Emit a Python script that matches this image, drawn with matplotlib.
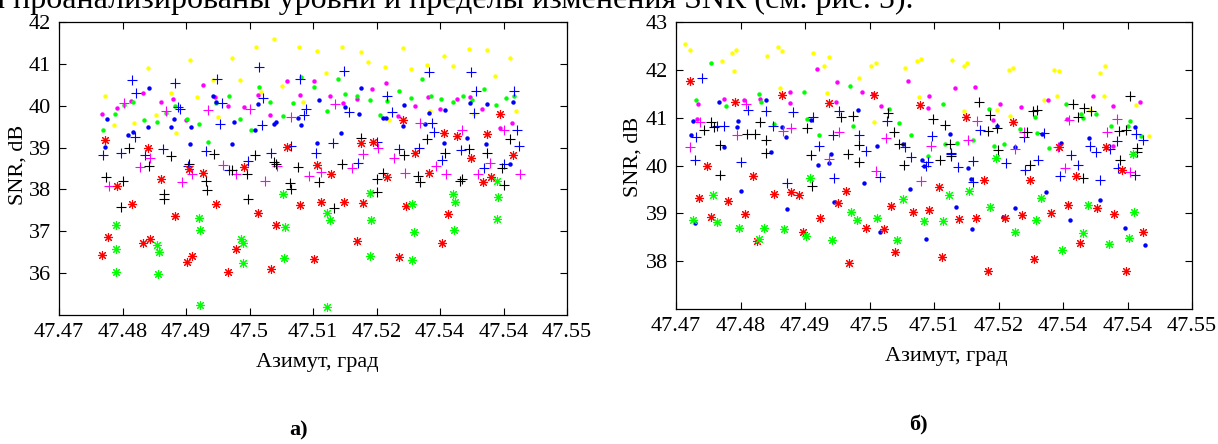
# Import necessary libraries
import numpy as np
import matplotlib
matplotlib.use('Agg')
import matplotlib.pyplot as plt

plt.rcParams['font.family'] = ['Liberation Serif', 'DejaVu Serif']

# ---------------- data: panel a) ----------------
a_yel_dot_x = [47.4772, 47.4786, 47.4818, 47.4840, 47.4852, 47.4877, 47.4885, 47.4906, 47.4918, 47.4943,
               47.4951, 47.4972, 47.4985, 47.5010, 47.5018, 47.5038, 47.5051, 47.5078, 47.5085, 47.5107,
               47.5121, 47.5146, 47.5175, 47.5187, 47.5213, 47.5220, 47.5241, 47.5254, 47.5279, 47.5285,
               47.5307, 47.5320, 47.5345, 47.5353, 47.5374, 47.5386, 47.5411, 47.5419]
a_yel_dot_y = [40.23, 39.53, 39.59, 40.90, 39.77, 40.31, 39.34, 41.09, 40.20, 40.62,
               39.73, 41.14, 40.62, 41.40, 40.33, 41.60, 40.47, 41.40, 40.08, 41.30,
               40.78, 41.40, 41.28, 41.05, 40.92, 39.65, 41.37, 40.87, 40.97, 39.88,
               41.19, 40.95, 41.35, 39.81, 41.33, 40.71, 41.14, 39.87]

a_mag_dot_x = [47.4767, 47.4792, 47.4813, 47.4833, 47.4860, 47.4880, 47.4900, 47.4926, 47.4946, 47.4966,
               47.4992, 47.5014, 47.5033, 47.5059, 47.5080, 47.5102, 47.5127, 47.5148, 47.5169, 47.5193,
               47.5215, 47.5234, 47.5261, 47.5281, 47.5300, 47.5327, 47.5347, 47.5366, 47.5394, 47.5414]
a_mag_dot_y = [39.80, 39.95, 40.11, 40.31, 40.10, 40.15, 39.67, 40.49, 40.20, 40.00,
               39.97, 40.26, 39.79, 40.59, 40.26, 40.59, 40.23, 40.06, 40.16, 40.39,
               40.54, 39.76, 40.00, 40.20, 39.92, 40.16, 40.21, 39.92, 39.46, 39.58]

a_grn_dot_x = [47.4769, 47.4788, 47.4803, 47.4816, 47.4834, 47.4854, 47.4869, 47.4882, 47.4901, 47.4920,
               47.4935, 47.4948, 47.4967, 47.4985, 47.5002, 47.5015, 47.5033, 47.5053, 47.5069, 47.5081,
               47.5102, 47.5122, 47.5139, 47.5150, 47.5170, 47.5189, 47.5205, 47.5217, 47.5236, 47.5255,
               47.5271, 47.5286, 47.5302, 47.5320, 47.5337, 47.5351, 47.5370, 47.5388, 47.5404, 47.5417]
a_grn_dot_y = [39.43, 39.80, 40.01, 40.10, 39.65, 39.61, 39.82, 40.00, 39.69, 39.56,
               39.14, 40.07, 40.23, 39.69, 39.42, 40.45, 40.08, 39.76, 40.07, 40.69,
               40.44, 39.88, 40.63, 40.28, 40.24, 40.14, 39.79, 40.11, 40.35, 40.18,
               40.63, 40.24, 40.15, 40.10, 40.23, 40.13, 40.40, 40.02, 40.18, 40.23]

a_blu_dot_x = [47.4775, 47.4772, 47.4809, 47.4816, 47.4841, 47.4840, 47.4876, 47.4881, 47.4906, 47.4908,
               47.4942, 47.4947, 47.4973, 47.4975, 47.5009, 47.5014, 47.5039, 47.5042, 47.5076, 47.5081,
               47.5107, 47.5110, 47.5144, 47.5151, 47.5173, 47.5176, 47.5210, 47.5215, 47.5241, 47.5243,
               47.5277, 47.5282, 47.5307, 47.5308, 47.5343, 47.5348, 47.5373, 47.5374, 47.5410, 47.5415]
a_blu_dot_y = [39.68, 39.01, 39.30, 39.38, 40.43, 39.48, 39.49, 39.68, 39.09, 39.49,
               40.23, 40.08, 39.09, 39.61, 39.42, 40.04, 39.57, 39.62, 39.71, 39.54,
               39.10, 40.14, 39.35, 39.96, 39.80, 40.43, 39.71, 39.71, 39.52, 40.01,
               39.56, 39.83, 39.10, 39.89, 39.22, 40.06, 39.09, 40.05, 38.60, 40.08]

a_blu_plus_x = [47.4769, 47.4798, 47.4815, 47.4819, 47.4822, 47.4835, 47.4864, 47.4882, 47.4888, 47.4890,
                47.4903, 47.4931, 47.4949, 47.4954, 47.4956, 47.4968, 47.4998, 47.5015, 47.5020, 47.5022,
                47.5034, 47.5066, 47.5080, 47.5086, 47.5089, 47.5104, 47.5132, 47.5149, 47.5157, 47.5171,
                47.5200, 47.5217, 47.5224, 47.5235, 47.5267, 47.5282, 47.5288, 47.5291, 47.5303, 47.5333,
                47.5349, 47.5356, 47.5354, 47.5370, 47.5400, 47.5417, 47.5422, 47.5424]
a_blu_plus_y = [38.83, 38.87, 40.62, 39.25, 40.31, 38.83, 38.96, 40.54, 39.96, 39.91,
                38.56, 38.92, 40.65, 39.57, 40.06, 38.46, 38.67, 40.93, 39.53, 40.19,
                38.88, 39.03, 40.65, 39.77, 39.91, 38.87, 39.12, 40.83, 39.85, 38.64,
                39.14, 40.23, 39.84, 38.96, 38.99, 40.81, 39.58, 39.37, 38.70, 38.94,
                40.81, 40.35, 39.82, 38.52, 38.60, 40.34, 39.43, 39.03]

a_mag_plus_x = [47.4778, 47.4802, 47.4827, 47.4844, 47.4868, 47.4893, 47.4910, 47.4934, 47.4959, 47.4978,
                47.5001, 47.5025, 47.5043, 47.5066, 47.5093, 47.5113, 47.5134, 47.5161, 47.5179, 47.5202,
                47.5228, 47.5245, 47.5268, 47.5293, 47.5310, 47.5335, 47.5360, 47.5379, 47.5401, 47.5426]
a_mag_plus_y = [38.07, 40.07, 38.53, 38.75, 39.88, 38.17, 38.38, 39.90, 38.59, 38.37,
                39.92, 38.19, 38.56, 39.73, 38.32, 38.42, 40.04, 38.52, 38.84, 38.98,
                38.75, 38.40, 39.59, 38.56, 38.37, 39.42, 38.38, 38.64, 39.43, 38.38]

a_blk_plus_x = [47.4774, 47.4798, 47.4801, 47.4811, 47.4841, 47.4865, 47.4866, 47.4877, 47.4905, 47.4932,
                47.4933, 47.4944, 47.4972, 47.4996, 47.4998, 47.5009, 47.5039, 47.5041, 47.5064, 47.5065,
                47.5077, 47.5109, 47.5133, 47.5146, 47.5176, 47.5200, 47.5201, 47.5210, 47.5243, 47.5266,
                47.5268, 47.5279, 47.5308, 47.5331, 47.5334, 47.5346, 47.5374, 47.5400, 47.5398, 47.5411]
a_blk_plus_y = [38.30, 37.59, 38.21, 39.00, 38.57, 37.88, 37.78, 38.81, 38.61, 38.19,
                37.98, 38.85, 38.47, 38.36, 37.76, 38.83, 38.66, 38.60, 38.15, 38.01,
                38.53, 38.18, 37.55, 38.60, 39.23, 38.25, 37.94, 38.40, 38.83, 38.32,
                38.18, 39.20, 38.88, 38.21, 38.24, 38.97, 38.87, 38.11, 38.52, 39.20]

a_red_star_x = [47.4768, 47.4772, 47.4777, 47.4792, 47.4815, 47.4833, 47.4844, 47.4840, 47.4860, 47.4882,
                47.4901, 47.4909, 47.4905, 47.4927, 47.4948, 47.4966, 47.4978, 47.4992, 47.5014, 47.5034,
                47.5042, 47.5059, 47.5080, 47.5102, 47.5106, 47.5113, 47.5128, 47.5149, 47.5169, 47.5175,
                47.5179, 47.5194, 47.5217, 47.5236, 47.5241, 47.5246, 47.5260, 47.5282, 47.5303, 47.5306,
                47.5312, 47.5326, 47.5349, 47.5368, 47.5374, 47.5380, 47.5394, 47.5415]
a_red_star_y = [36.44, 39.19, 36.87, 38.08, 37.64, 36.71, 36.81, 39.00, 38.25, 37.37,
                36.26, 36.40, 38.49, 38.40, 37.64, 36.03, 36.57, 38.53, 37.43, 36.11,
                37.15, 39.02, 37.62, 36.34, 38.59, 37.69, 38.38, 37.70, 36.77, 39.10,
                37.67, 39.13, 38.29, 36.38, 39.67, 37.60, 38.87, 38.40, 36.73, 39.34,
                37.42, 39.28, 38.75, 38.17, 39.33, 38.29, 39.81, 38.83]

a_grn_star_x = [47.4789, 47.4789, 47.4789, 47.4855, 47.4857, 47.4856, 47.4920, 47.4922, 47.4922, 47.4986,
                47.4990, 47.4989, 47.5052, 47.5056, 47.5054, 47.5122, 47.5126, 47.5122, 47.5190, 47.5192,
                47.5189, 47.5256, 47.5259, 47.5256, 47.5321, 47.5324, 47.5322, 47.5389, 47.5392, 47.5389]
a_grn_star_y = [37.14, 36.58, 36.03, 36.68, 36.50, 35.99, 37.31, 37.02, 35.25, 36.81,
                36.72, 36.24, 37.89, 37.10, 36.35, 37.43, 37.27, 35.20, 37.92, 37.27,
                36.41, 37.64, 36.98, 36.31, 37.90, 37.71, 37.02, 38.21, 37.81, 37.29]

# ---------------- data: panel б) ----------------
b_yel_dot_x = [47.4714, 47.4722, 47.4771, 47.4787, 47.4793, 47.4790, 47.4841, 47.4858, 47.4865, 47.4913,
               47.4930, 47.4937, 47.4984, 47.5002, 47.5010, 47.5055, 47.5073, 47.5080, 47.5128, 47.5146,
               47.5151, 47.5216, 47.4862, 47.4934, 47.5007, 47.5077, 47.5147, 47.5198, 47.5223, 47.5218,
               47.5286, 47.5294, 47.5290, 47.5271, 47.5357, 47.5365, 47.5363, 47.5342, 47.5413, 47.5433]
b_yel_dot_y = [42.53, 42.41, 42.18, 42.35, 42.41, 41.98, 42.28, 42.48, 42.39, 42.36,
               42.07, 42.26, 41.82, 42.09, 42.14, 42.03, 42.18, 42.23, 42.21, 42.07,
               42.15, 42.00, 41.61, 41.51, 40.91, 41.44, 41.14, 41.16, 42.04, 41.04,
               42.00, 41.98, 41.45, 41.37, 41.94, 42.09, 41.46, 41.17, 41.26, 40.62]

b_mag_dot_x = [47.4734, 47.4733, 47.4775, 47.4805, 47.4831, 47.4877, 47.4877, 47.4918, 47.4949, 47.4948,
               47.4989, 47.5006, 47.5018, 47.5060, 47.5092, 47.5090, 47.5133, 47.5164, 47.5191, 47.5202,
               47.5235, 47.5276, 47.5306, 47.5347, 47.5378, 47.5419, 47.5377]
b_mag_dot_y = [41.29, 40.98, 41.39, 41.37, 41.40, 41.53, 41.31, 42.02, 41.74, 41.33,
               41.53, 41.49, 41.25, 41.77, 41.45, 41.21, 41.63, 41.65, 40.95, 41.29,
               41.23, 41.36, 40.97, 41.46, 41.24, 41.33, 40.41]

b_grn_dot_x = [47.4755, 47.4731, 47.4777, 47.4828, 47.4832, 47.4898, 47.4903, 47.4922, 47.4970, 47.4975,
               47.5030, 47.5045, 47.5065, 47.5114, 47.5117, 47.5135, 47.5185, 47.5193, 47.4852, 47.5090,
               47.5160, 47.5208, 47.5233, 47.5256, 47.5260, 47.5279, 47.5304, 47.5328, 47.5331, 47.5351,
               47.5374, 47.5400, 47.5404, 47.5421]
b_grn_dot_y = [42.14, 41.37, 41.24, 41.49, 41.33, 41.54, 40.97, 40.64, 41.67, 40.83,
               41.18, 40.88, 40.64, 41.29, 40.44, 40.46, 41.18, 40.41, 40.87, 40.20,
               40.53, 40.45, 40.76, 41.02, 40.67, 40.37, 41.29, 41.08, 40.99, 41.08,
               40.83, 40.83, 40.92, 40.62]

b_blu_dot_x = [47.4726, 47.4723, 47.4766, 47.4774, 47.4795, 47.4796, 47.4839, 47.4848, 47.4865, 47.4870,
               47.4909, 47.4940, 47.4982, 47.5012, 47.5052, 47.5125, 47.5197, 47.5225, 47.5268, 47.5297,
               47.5341, 47.5412, 47.4729, 47.4801, 47.4872, 47.4920, 47.4937, 47.4945, 47.4991, 47.5016,
               47.5063, 47.5082, 47.5085, 47.5088, 47.5134, 47.5152, 47.5157, 47.5159, 47.5207, 47.5226,
               47.5274, 47.5311, 47.5357, 47.5396, 47.5427]
b_blu_dot_y = [40.94, 40.64, 41.33, 40.38, 40.81, 40.92, 41.37, 40.28, 40.81, 40.59,
               40.95, 40.25, 41.15, 40.41, 40.45, 40.66, 40.83, 40.39, 40.65, 40.48,
               40.58, 40.80, 38.79, 39.46, 39.10, 40.02, 40.05, 39.24, 39.63, 38.60,
               39.51, 40.12, 40.00, 38.46, 39.13, 39.95, 39.72, 38.67, 38.93, 39.11,
               39.45, 38.86, 39.28, 38.69, 38.34]

b_blu_plus_x = [47.4741, 47.4731, 47.4764, 47.4775, 47.4812, 47.4840, 47.4850, 47.4882, 47.4912, 47.4922,
                47.4943, 47.4953, 47.4983, 47.4994, 47.5027, 47.5097, 47.5126, 47.5171, 47.5055, 47.5240,
                47.5270, 47.5313, 47.5342, 47.5351, 47.5373, 47.5384, 47.5413, 47.5424, 47.4729, 47.4801,
                47.4872, 47.4945, 47.5016, 47.5065, 47.5090, 47.5088, 47.5127, 47.5137, 47.5161, 47.5161,
                47.5211, 47.5241, 47.5261, 47.5295, 47.5323, 47.5357, 47.5385, 47.5412]
b_blu_plus_y = [41.83, 40.59, 40.83, 40.83, 41.16, 41.14, 40.83, 41.12, 41.02, 40.41,
                40.64, 41.13, 40.64, 40.31, 40.92, 40.61, 40.27, 40.74, 40.39, 40.60,
                40.67, 40.22, 40.41, 40.28, 40.35, 40.52, 40.66, 40.53, 40.12, 40.08,
                39.63, 39.73, 39.75, 40.17, 40.08, 40.00, 40.25, 39.96, 40.09, 39.65,
                40.06, 39.91, 40.11, 39.78, 40.01, 39.70, 39.95, 39.80]

b_mag_plus_x = [47.4722, 47.4737, 47.4794, 47.4808, 47.4866, 47.4879, 47.4952, 47.5025, 47.5096, 47.5153,
                47.5167, 47.5226, 47.5240, 47.5293, 47.5310, 47.5368, 47.5383, 47.4937, 47.5010, 47.5080,
                47.5303, 47.5404]
b_mag_plus_y = [40.39, 40.90, 40.64, 41.29, 40.72, 40.78, 40.71, 40.57, 40.41, 40.54,
                40.92, 40.35, 40.69, 40.39, 40.95, 40.69, 40.97, 40.13, 39.89, 39.68,
                39.95, 39.86]

b_blk_plus_x = [47.4744, 47.4754, 47.4759, 47.4768, 47.4810, 47.4823, 47.4831, 47.4839, 47.4840, 47.4903,
                47.4956, 47.4974, 47.4983, 47.5029, 47.5038, 47.5045, 47.5098, 47.5117, 47.5125, 47.5170,
                47.5187, 47.5197, 47.5183, 47.5199, 47.5244, 47.5253, 47.5259, 47.5316, 47.5332, 47.5324,
                47.5343, 47.5387, 47.5398, 47.5404, 47.5414, 47.5414, 47.4768, 47.4910, 47.4911, 47.4967,
                47.4984, 47.5054, 47.5109, 47.5127, 47.5249, 47.5331, 47.5388]
b_blk_plus_y = [40.74, 40.91, 40.81, 40.42, 40.66, 40.66, 40.90, 40.53, 40.26, 40.79,
                41.02, 41.04, 40.42, 41.09, 40.70, 40.45, 40.97, 40.85, 40.45, 41.32,
                41.05, 40.78, 40.73, 40.32, 40.69, 41.14, 41.17, 41.28, 41.20, 41.02,
                41.14, 40.72, 40.74, 41.46, 40.37, 40.29, 39.80, 40.22, 39.57, 40.24,
                40.08, 40.02, 40.12, 40.20, 40.01, 39.74, 40.11]

b_red_star_x = [47.4721, 47.4792, 47.4864, 47.4937, 47.5007, 47.5079, 47.5150, 47.5222, 47.5294, 47.5366,
                47.4735, 47.4748, 47.4754, 47.4780, 47.4807, 47.4820, 47.4825, 47.4852, 47.4878, 47.4891,
                47.4897, 47.4924, 47.4951, 47.4963, 47.4968, 47.4994, 47.5022, 47.5033, 47.5040, 47.5067,
                47.5093, 47.5107, 47.5112, 47.5138, 47.5165, 47.5178, 47.5184, 47.5210, 47.5236, 47.5249,
                47.5255, 47.5281, 47.5308, 47.5320, 47.5326, 47.5353, 47.5379, 47.5391, 47.5398, 47.5424]
b_red_star_y = [41.77, 41.32, 41.47, 41.31, 41.47, 41.26, 41.02, 40.90, 40.39, 40.39,
                39.33, 39.99, 38.93, 39.26, 38.98, 39.78, 38.43, 39.41, 39.45, 39.38,
                38.61, 38.90, 39.22, 39.46, 37.97, 38.70, 38.67, 39.15, 38.20, 39.03,
                39.08, 39.55, 38.08, 38.88, 38.91, 39.70, 37.80, 38.90, 38.96, 39.70,
                38.04, 39.01, 39.17, 39.78, 38.38, 39.11, 38.99, 39.91, 37.79, 38.61]

b_grn_star_x = [47.4727, 47.4757, 47.4764, 47.4797, 47.4828, 47.4836, 47.4868, 47.4902, 47.4908, 47.4942,
                47.4972, 47.4980, 47.5011, 47.5042, 47.5052, 47.5084, 47.5114, 47.5123, 47.5155, 47.5187,
                47.5196, 47.5409, 47.5226, 47.5258, 47.5266, 47.5298, 47.5331, 47.5339, 47.5371, 47.5402,
                47.5410]
b_grn_star_y = [38.87, 39.38, 38.81, 38.70, 38.46, 38.70, 38.67, 38.53, 39.74, 38.44,
                39.03, 38.87, 38.91, 38.44, 39.31, 38.85, 38.85, 39.38, 39.46, 39.14,
                40.15, 40.24, 38.61, 38.86, 39.32, 38.23, 38.59, 39.17, 38.36, 38.48,
                39.03]

# axis ticks (labels as printed in the source figure)
x_ticks = np.linspace(47.47, 47.55, 9)
x_tick_labels = ['47.47', '47.48', '47.49', '47.5', '47.51', '47.52', '47.54', '47.54', '47.55']
a_y_ticks = [36, 37, 38, 39, 40, 41, 42]
b_y_ticks = [38, 39, 40, 41, 42, 43]

# marker styles (MATLAB-like)
star = (8, 2, 0)
yellow, magenta, green, blue, black, red = (1, 1, 0), (1, 0, 1), (0, 1, 0), (0, 0, 1), (0, 0, 0), (1, 0, 0)


def draw_series(ax, x, y, color, kind):
    if kind == 'dot':
        ax.plot(x, y, 'o', color=color, ms=3.2, mew=0, ls='none')
    elif kind == 'plus':
        ax.plot(x, y, '+', color=color, ms=6.5, mew=0.8, ls='none')
    else:
        ax.plot(x, y, marker=star, color=color, ms=6.5, mew=0.8, ls='none')


def style_axes(ax, ylim, yticks):
    ax.set_xlim(47.47, 47.55)
    ax.set_ylim(*ylim)
    ax.set_xticks(x_ticks)
    ax.set_xticklabels(x_tick_labels)
    ax.set_yticks(yticks)
    ax.tick_params(direction='in', length=5, width=0.8, labelsize=16,
                   top=True, right=True, pad=6)
    for s in ax.spines.values():
        s.set_linewidth(0.9)


fig = plt.figure(figsize=(12.18, 4.44), dpi=100)

# panel a)
ax1 = fig.add_axes([59 / 1218, 1 - 315 / 444, 508 / 1218, 293 / 444])
draw_series(ax1, a_yel_dot_x, a_yel_dot_y, yellow, 'dot')
draw_series(ax1, a_mag_dot_x, a_mag_dot_y, magenta, 'dot')
draw_series(ax1, a_grn_dot_x, a_grn_dot_y, green, 'dot')
draw_series(ax1, a_blu_dot_x, a_blu_dot_y, blue, 'dot')
draw_series(ax1, a_blu_plus_x, a_blu_plus_y, blue, 'plus')
draw_series(ax1, a_mag_plus_x, a_mag_plus_y, magenta, 'plus')
draw_series(ax1, a_blk_plus_x, a_blk_plus_y, black, 'plus')
draw_series(ax1, a_red_star_x, a_red_star_y, red, 'star')
draw_series(ax1, a_grn_star_x, a_grn_star_y, green, 'star')
style_axes(ax1, (35, 42), a_y_ticks)

# panel b)
ax2 = fig.add_axes([676 / 1218, 1 - 309 / 444, 516 / 1218, 287 / 444])
draw_series(ax2, b_yel_dot_x, b_yel_dot_y, yellow, 'dot')
draw_series(ax2, b_mag_dot_x, b_mag_dot_y, magenta, 'dot')
draw_series(ax2, b_grn_dot_x, b_grn_dot_y, green, 'dot')
draw_series(ax2, b_blu_dot_x, b_blu_dot_y, blue, 'dot')
draw_series(ax2, b_blu_plus_x, b_blu_plus_y, blue, 'plus')
draw_series(ax2, b_mag_plus_x, b_mag_plus_y, magenta, 'plus')
draw_series(ax2, b_blk_plus_x, b_blk_plus_y, black, 'plus')
draw_series(ax2, b_red_star_x, b_red_star_y, red, 'star')
draw_series(ax2, b_grn_star_x, b_grn_star_y, green, 'star')
style_axes(ax2, (37, 43), b_y_ticks)

# labels
fig.text(18 / 1218, 1 - 165 / 444, 'SNR, dB', rotation=90, ha='center', va='center', fontsize=16)
fig.text(633 / 1218, 1 - 157 / 444, 'SNR, dB', rotation=90, ha='center', va='center', fontsize=16)
fig.text(317 / 1218, 1 - 362 / 444, 'Азимут, град', ha='center', va='center', fontsize=16)
fig.text(946 / 1218, 1 - 356 / 444, 'Азимут, град', ha='center', va='center', fontsize=16)
fig.text(299 / 1218, 1 - 430 / 444, 'а)', ha='center', va='center', fontsize=16, weight='bold')
fig.text(918 / 1218, 1 - 425 / 444, 'б)', ha='center', va='center', fontsize=16, weight='bold')

# clipped line of the surrounding text
fig.text(-12 / 1218, 1 - 8 / 444, 'и проанализированы уровни и пределы изменения SNR (см. рис. 5).',
         ha='left', va='baseline', fontsize=23)

fig.savefig('out.png', dpi=100)
